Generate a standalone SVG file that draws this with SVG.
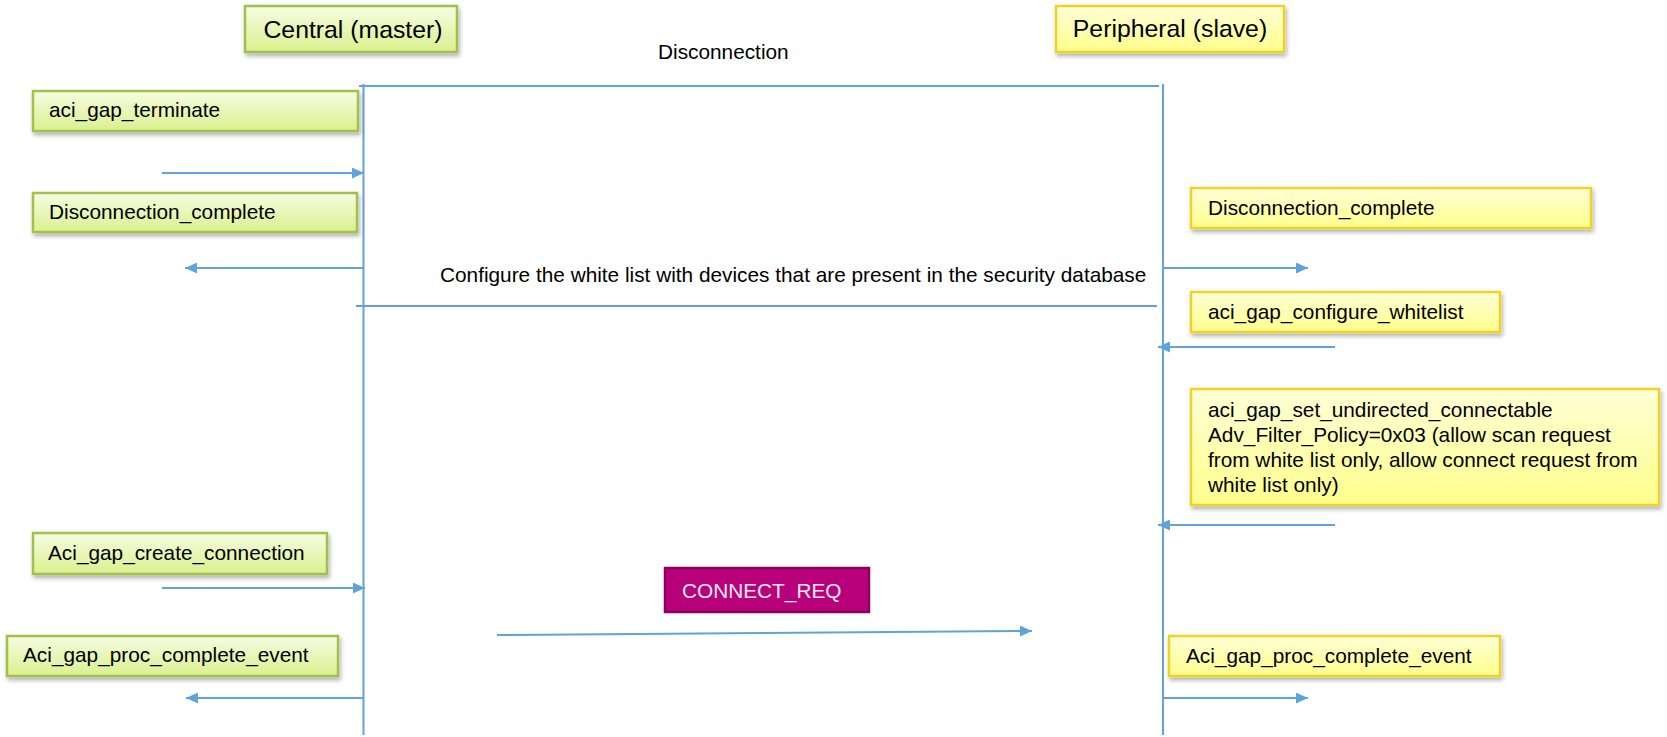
<svg xmlns="http://www.w3.org/2000/svg" width="1667" height="737" viewBox="0 0 1667 737">
<style>
text{font-family:"Liberation Sans",Arial,sans-serif;fill:#000}
.t{font-size:24.8px}
.l{font-size:20.8px}
.g{fill:url(#gg);stroke:#a3c04c;stroke-width:2.5}
.y{fill:url(#yg);stroke:#f0d12c;stroke-width:2.5}
.ln{stroke:#5fa3dd;stroke-width:2;fill:none}
.ar{stroke:#5fa3dd;stroke-width:2;fill:none;marker-end:url(#ah)}
</style>
<defs>
<linearGradient id="gg" x1="0" y1="0" x2="0" y2="1">
<stop offset="0" stop-color="#f6fde2"/>
<stop offset="1" stop-color="#daf08e"/>
</linearGradient>
<linearGradient id="yg" x1="0" y1="0" x2="0" y2="1">
<stop offset="0" stop-color="#ffffd6"/>
<stop offset="1" stop-color="#ffff8c"/>
</linearGradient>
<filter id="sh" x="-5%" y="-20%" width="115%" height="160%">
<feDropShadow dx="1.5" dy="3" stdDeviation="2" flood-color="#000" flood-opacity="0.3"/>
</filter>
<marker id="ah" viewBox="0 0 12 11" refX="12" refY="5.5" markerWidth="12" markerHeight="11" markerUnits="userSpaceOnUse" orient="auto">
<path d="M0,0 L12,5.5 L0,11 z" fill="#5fa3dd"/>
</marker>
</defs>

<g id="central">
<rect class="g" x="245" y="6" width="212" height="46" filter="url(#sh)"/>
<text class="t" x="353" y="38" text-anchor="middle">Central (master)</text>
</g>
<g id="peripheral">
<rect class="y" x="1056" y="6" width="228" height="46" filter="url(#sh)"/>
<text class="t" x="1170" y="37" text-anchor="middle">Peripheral (slave)</text>
</g>

<g id="connectors">
<line class="ln" x1="363.5" y1="84" x2="363.5" y2="735"/>
<line class="ln" x1="1163" y1="84" x2="1163" y2="735"/>
<line class="ln" x1="359" y1="86" x2="1159" y2="86"/>
<line class="ln" x1="356" y1="306" x2="1157" y2="306"/>
<line class="ar" x1="162" y1="173" x2="364" y2="173"/>
<line class="ar" x1="363" y1="268" x2="185" y2="268"/>
<line class="ar" x1="1163" y1="268" x2="1308" y2="268"/>
<line class="ar" x1="1335" y1="347" x2="1158" y2="347"/>
<line class="ar" x1="1335" y1="525" x2="1158" y2="525"/>
<line class="ar" x1="162" y1="588" x2="365" y2="588"/>
<line class="ar" x1="497" y1="635" x2="1032" y2="631"/>
<line class="ar" x1="363" y1="698" x2="186" y2="698"/>
<line class="ar" x1="1163" y1="698" x2="1308" y2="698"/>
</g>

<g id="disconnection-label">
<text class="l" x="658" y="59">Disconnection</text>
</g>
<g id="configure-label">
<text class="l" x="440" y="282">Configure the white list with devices that are present in the security database</text>
</g>

<g id="aci_gap_terminate">
<rect class="g" x="33" y="91" width="325" height="40" filter="url(#sh)"/>
<text class="l" x="49" y="117">aci_gap_terminate</text>
</g>
<g id="disconnection_complete_central">
<rect class="g" x="33" y="193" width="324" height="39" filter="url(#sh)"/>
<text class="l" x="49" y="219">Disconnection_complete</text>
</g>
<g id="disconnection_complete_peripheral">
<rect class="y" x="1191" y="188" width="400" height="40" filter="url(#sh)"/>
<text class="l" x="1208" y="215">Disconnection_complete</text>
</g>
<g id="aci_gap_configure_whitelist">
<rect class="y" x="1191" y="292" width="309" height="40" filter="url(#sh)"/>
<text class="l" x="1208" y="319">aci_gap_configure_whitelist</text>
</g>
<g id="aci_gap_set_undirected_connectable">
<rect class="y" x="1191" y="389" width="468" height="116" filter="url(#sh)"/>
<text class="l" x="1208" y="417">aci_gap_set_undirected_connectable</text>
<text class="l" x="1208" y="442">Adv_Filter_Policy=0x03 (allow scan request</text>
<text class="l" x="1208" y="467">from white list only, allow connect request from</text>
<text class="l" x="1208" y="492">white list only)</text>
</g>
<g id="aci_gap_create_connection">
<rect class="g" x="33" y="533" width="294" height="41" filter="url(#sh)"/>
<text class="l" x="48" y="560">Aci_gap_create_connection</text>
</g>
<g id="connect_req">
<rect x="665" y="568" width="204" height="44" fill="#b8007a" stroke="#8c005c" stroke-width="2.5"/>
<text class="l" x="682" y="598" style="fill:#fbeaf4">CONNECT_REQ</text>
</g>
<g id="proc_complete_central">
<rect class="g" x="7" y="636" width="331" height="40" filter="url(#sh)"/>
<text class="l" x="23" y="662">Aci_gap_proc_complete_event</text>
</g>
<g id="proc_complete_peripheral">
<rect class="y" x="1169" y="636" width="331" height="40" filter="url(#sh)"/>
<text class="l" x="1186" y="663">Aci_gap_proc_complete_event</text>
</g>
</svg>
